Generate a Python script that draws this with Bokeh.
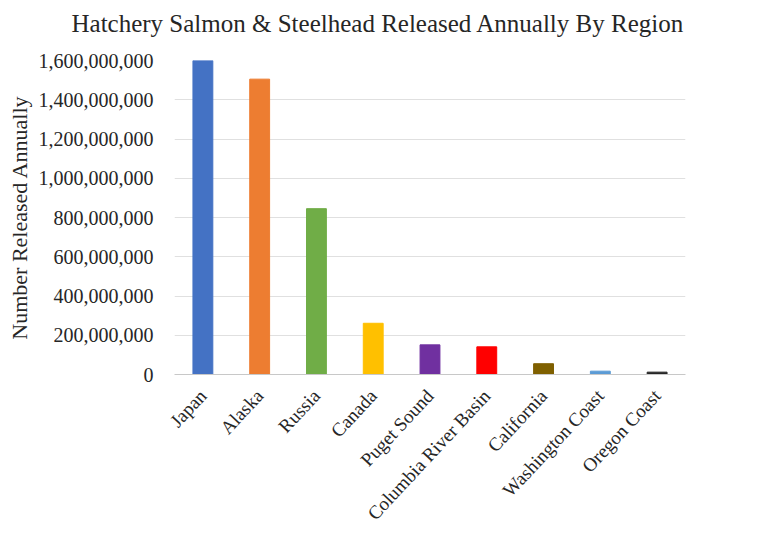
import math
from bokeh.plotting import figure
from bokeh.models import ColumnDataSource, NumeralTickFormatter, FixedTicker, Title
from bokeh.embed import file_html
from bokeh.resources import INLINE

# Hatchery releases per region (fish per year)
regions = ["Japan", "Alaska", "Russia", "Canada", "Puget Sound",
           "Columbia River Basin", "California", "Washington Coast", "Oregon Coast"]
released = [1600000000, 1505000000, 845000000, 261000000, 151000000,
            141000000, 55000000, 17000000, 12000000]
bar_colors = ["#4472C4", "#ED7D31", "#70AD47", "#FFC000", "#7030A0",
              "#FF0000", "#7F6000", "#5B9BD5", "#262626"]
y_ticks = [0, 200000000, 400000000, 600000000, 800000000,
           1000000000, 1200000000, 1400000000, 1600000000]

FONT = "Liberation Serif"

source = ColumnDataSource(dict(region=regions, released=released, color=bar_colors))

p = figure(x_range=regions, y_range=(0, 1600000000),
           width=768, height=544, output_backend="svg", toolbar_location=None,
           min_border_left=174, min_border_right=83,
           min_border_top=60, min_border_bottom=170)

p.vbar(x="region", top="released", width=0.35, color="color", source=source)

# a blank strip keeps the heading clear of the top gridline
gap = Title(text=" ", text_font_size="1px", standoff=21)
p.add_layout(gap, "above")

heading = Title(text="Hatchery Salmon & Steelhead Released Annually By Region",
                align="left", offset=-103, standoff=0)
heading.text_font = FONT
heading.text_font_size = "25px"
heading.text_font_style = "normal"
heading.text_color = "#262626"
p.add_layout(heading, "above")

p.yaxis.ticker = FixedTicker(ticks=y_ticks)
p.yaxis.formatter = NumeralTickFormatter(format="0,0")
p.yaxis.axis_label = "Number Released Annually"
p.yaxis.axis_label_text_font = FONT
p.yaxis.axis_label_text_font_size = "22px"
p.yaxis.axis_label_text_font_style = "normal"
p.yaxis.axis_label_text_color = "#262626"
p.yaxis.axis_label_standoff = 4
p.yaxis.axis_line_color = None
p.yaxis.major_tick_line_color = None
p.yaxis.minor_tick_line_color = None
p.yaxis.major_label_text_font = FONT
p.yaxis.major_label_text_font_size = "20px"
p.yaxis.major_label_text_color = "#262626"
p.yaxis.major_label_standoff = 15

p.xaxis.major_label_orientation = math.radians(47)
p.xaxis.major_label_text_font = FONT
p.xaxis.major_label_text_font_size = "19px"
p.xaxis.major_label_text_color = "#262626"
p.xaxis.major_label_standoff = 12
p.xaxis.axis_line_color = "#c8c8c8"
p.xaxis.major_tick_line_color = None
p.xaxis.minor_tick_line_color = None

p.xgrid.grid_line_color = None
p.ygrid.grid_line_color = "#e0e0e0"
p.outline_line_color = None

open("out.html", "w").write(file_html(p, INLINE))
